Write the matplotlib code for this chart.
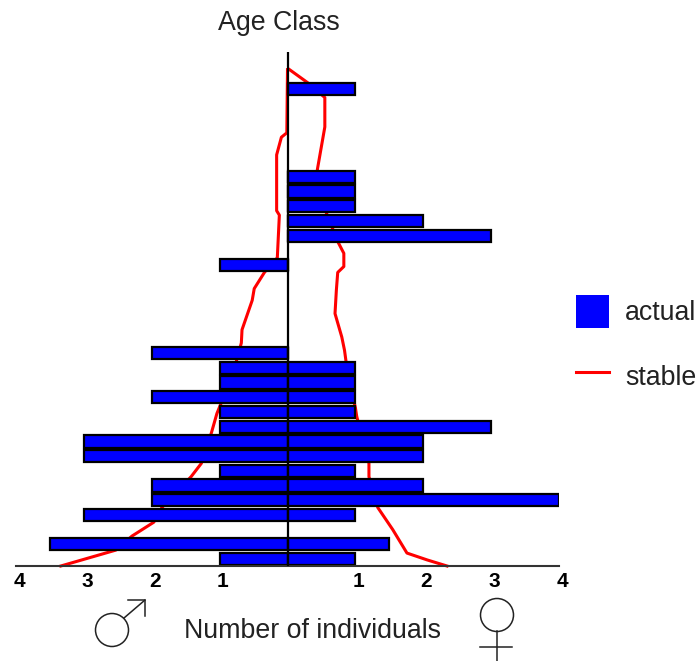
import matplotlib
matplotlib.use("Agg")
import matplotlib.pyplot as plt
from matplotlib.patches import Circle, Patch
from matplotlib.lines import Line2D
from matplotlib.transforms import ScaledTranslation

plt.rcParams['font.family'] = ['Liberation Sans', 'DejaVu Sans']

age_rows = [0, 1, 3, 4, 5, 6, 7, 8, 9, 10, 11, 12, 13, 14, 20, 22, 23, 24, 25, 26, 32]
male_actual = [1, 3.5, 3, 2, 2, 1, 3, 3, 1, 1, 2, 1, 1, 2, 1, 0, 0, 0, 0, 0, 0]
female_actual = [1, 1.5, 1, 4, 2, 1, 2, 2, 3, 1, 1, 1, 1, 0, 0, 3, 2, 1, 1, 1, 1]

male_stable_age = [-0.48, 0.6, 1.56, 2.5, 3.5, 5.6, 6.5, 8.6, 9.9, 12.5, 14.7, 15.6, 17.6, 18.4,
                   19.5, 20.5, 23.4, 23.7, 27.5, 28.7, 29, 33.3]
male_stable = [3.34, 2.53, 2.29, 1.97, 1.85, 1.42, 1.27, 1.12, 1.04, 0.81, 0.68, 0.67, 0.52, 0.49,
               0.34, 0.15, 0.12, 0.16, 0.16, 0.09, 0.01, 0]
female_stable_age = [-0.48, -0.07, 0.4, 2, 3.5, 5.6, 6.5, 9.7, 10.3, 12.5, 14.2, 15.1, 16.7, 18.3,
                     19.5, 19.9, 20.8, 21.6, 24.4, 26.5, 29.4, 31.4, 32.4, 33.3]
female_stable = [2.35, 2.06, 1.76, 1.55, 1.33, 1.2, 1.2, 1.02, 1.0, 0.89, 0.84, 0.8, 0.7, 0.72,
                 0.74, 0.83, 0.83, 0.74, 0.5, 0.44, 0.55, 0.55, 0.3, 0.03]

tick_values = [-4, -3, -2, -1, 1, 2, 3, 4]
tick_labels = ['4', '3', '2', '1', '1', '2', '3', '4']

W, H = 697, 661
fig = plt.figure(figsize=(W / 100, H / 100), dpi=100)
L, R, T, B = 16, 559, 52, 566
ax = fig.add_axes([L / W, 1 - B / H, (R - L) / W, (B - T) / H])
ax.set_xlim(-4, 4)
ax.set_ylim(-0.48, 34.5)
ax.patch.set_alpha(0)

ax.plot([-v for v in male_stable], male_stable_age, color='#ff0000', lw=2.2, zorder=1, clip_on=False)
ax.plot(female_stable, female_stable_age, color='#ff0000', lw=2.2, zorder=1, clip_on=False)

ax.barh(age_rows, [-v for v in male_actual], height=0.84, color='#0000ff', edgecolor='black', linewidth=1.6, zorder=2)
ax.barh(age_rows, female_actual, height=0.84, color='#0000ff', edgecolor='black', linewidth=1.6, zorder=2)
ax.axvline(0, color='black', lw=1.6, zorder=3)

for s in ['top', 'left', 'right']:
    ax.spines[s].set_visible(False)
ax.spines['bottom'].set_color('#333333')
ax.spines['bottom'].set_linewidth(1.5)
ax.set_yticks([])
ax.set_xticks(tick_values)
ax.set_xticklabels(tick_labels, fontsize=15, fontweight='bold', color='black')
ax.tick_params(axis='x', length=0, pad=4)
for lab in ax.get_xticklabels():
    lab.set_transform(lab.get_transform() + ScaledTranslation(3 / 100, 0, fig.dpi_scale_trans))

fig.text(278.5 / W, 1 - 23 / H, 'Age Class', ha='center', va='center', fontsize=19.3, color='#222222')
fig.text(312.5 / W, 1 - 631 / H, 'Number of individuals', ha='center', va='center', fontsize=19.3, color='#222222')

handles = [Patch(facecolor='#0000ff', edgecolor='none', label='actual'),
           Line2D([0], [0], color='#ff0000', lw=2.2, label='stable')]
fig.legend(handles=handles, loc='upper left', bbox_to_anchor=(576 / W, 1 - 295 / H),
           bbox_transform=fig.transFigure, frameon=False, fontsize=19.3, labelcolor='#222222',
           borderpad=0, borderaxespad=0, handlelength=1.23, handleheight=1.52,
           handletextpad=0.6, labelspacing=1.16)

# male and female symbols, drawn in pixel space
sym = fig.add_axes([0, 0, 1, 1])
sym.set_xlim(0, W)
sym.set_ylim(H, 0)
sym.axis('off')
sym.patch.set_alpha(0)
kw = dict(color='#222222', lw=1.1)
sym.add_patch(Circle((112, 630), 16.5, fill=False, edgecolor='#222222', lw=1.1))
sym.plot([124, 145], [618, 600], **kw)
sym.plot([128, 145, 145], [600, 600, 616], **kw)
sym.add_patch(Circle((497, 615), 16.5, fill=False, edgecolor='#222222', lw=1.1))
sym.plot([497, 497], [631, 661], **kw)
sym.plot([480, 512], [647, 647], **kw)

fig.savefig('out.png', dpi=100)
